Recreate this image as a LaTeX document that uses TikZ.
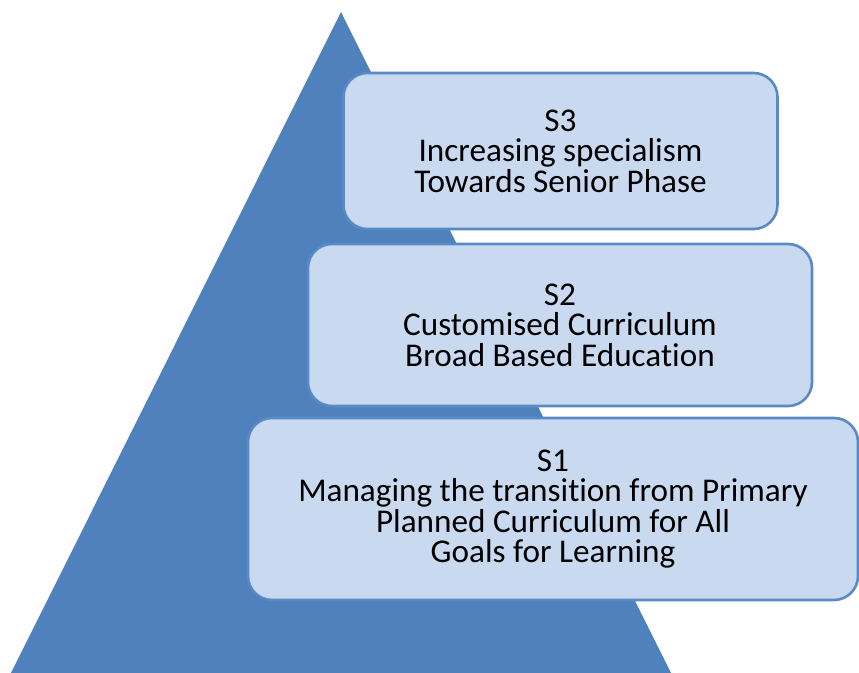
\documentclass[tikz,border=0pt]{standalone}
\usepackage{fontspec}
\setmainfont{Carlito}[Ligatures=NoCommon]
\definecolor{PyrClr}{HTML}{4F81BD}
\definecolor{BoxClr}{HTML}{C9DAF0}
\definecolor{EdgeClr}{HTML}{5A8AC6}

\begin{document}
\begin{tikzpicture}[x=0.5pt,y=-0.5pt,
  stage/.style={draw=EdgeClr,line width=1.3pt,fill=BoxClr,rounded corners=12pt,
    align=center,font=\fontsize{16.6}{15.2}\selectfont,inner sep=0pt}]
\useasboundingbox (0,0) rectangle (859,673);

\coordinate (A) at (11,673);
\coordinate (B) at (671,673);
\coordinate (C) at (341,12);
\fill[PyrClr] (A) -- (B) -- (C) -- cycle;

\node[stage,minimum width=217pt,minimum height=78pt] (s3) at (560.5,151)
  {S3\\Increasing specialism\\Towards Senior Phase};
\node[stage,minimum width=252pt,minimum height=81pt] (s2) at (560,325)
  {S2\\Customised Curriculum\\Broad Based Education};
\node[stage,minimum width=305pt,minimum height=91pt] (s1) at (553,509)
  {S1\\Managing the transition from Primary\\Planned Curriculum for All\\Goals for Learning};

\end{tikzpicture}
\end{document}
